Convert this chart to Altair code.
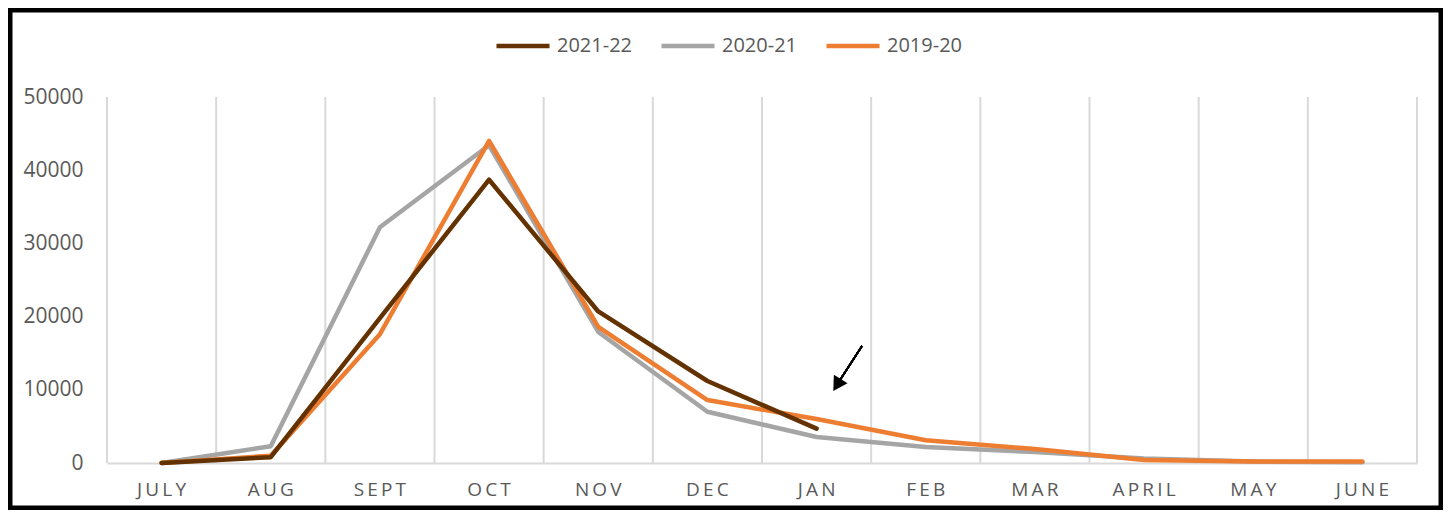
import altair as alt
import pandas as pd

months = ["JULY", "AUG", "SEPT", "OCT", "NOV", "DEC", "JAN", "FEB", "MAR", "APRIL", "MAY", "JUNE"]
s2122 = [0, 800, 19800, 38700, 20700, 11200, 4700]
s2021 = [0, 2300, 32200, 43400, 17900, 7000, 3550, 2200, 1500, 600, 200, 100]
s1920 = [0, 1000, 17600, 44000, 18600, 8600, 6000, 3100, 1900, 400, 200, 200]
series = ["2021-22", "2020-21", "2019-20"]
colors = ["#633200", "#A5A5A5", "#ED7D31"]

W, H = 1310, 366

rows = []
for name, vals in zip(series, [s2122, s2021, s1920]):
    for i, v in enumerate(vals):
        rows.append({"month": months[i], "season": name, "value": v, "idx": i})
df = pd.DataFrame(rows)
mdf = pd.DataFrame({"month": months})

xscale = alt.Scale(type="band", domain=months, paddingInner=0, paddingOuter=0)
yscale = alt.Scale(domain=[0, 50000])
cscale = alt.Scale(domain=series, range=colors)

grid = alt.Chart(mdf).mark_rule(color="#D9D9D9", strokeWidth=2).encode(
    x=alt.X("month:N", scale=xscale, bandPosition=0, sort=months,
            axis=alt.Axis(title=None, ticks=False, domainColor="#D9D9D9", domainWidth=2,
                          labelFontSize=19, labelColor="#595959", labelFont="Open Sans",
                          labelPadding=17, labelAngle=0,
                          labelExpr="join(split(datum.label, ''), '\u2009')")),
    y=alt.value(0),
    y2=alt.value(H),
)
right_rule = alt.Chart(mdf).mark_rule(color="#D9D9D9", strokeWidth=2).encode(
    x=alt.value(W), y=alt.value(0), y2=alt.value(H)
)

def line_layer(name):
    return alt.Chart(df[df.season == name]).mark_line(strokeWidth=4.5, strokeCap="round", strokeJoin="round").encode(
        x=alt.X("month:N", scale=xscale, bandPosition=0.5, sort=months),
        y=alt.Y("value:Q", scale=yscale,
                axis=alt.Axis(title=None, values=[0, 10000, 20000, 30000, 40000, 50000],
                              format="d", grid=False, domain=False, ticks=False, labelFontSize=21,
                              labelColor="#595959", labelFont="Open Sans", labelPadding=24)),
        color=alt.Color("season:N", scale=cscale,
                        legend=alt.Legend(title=None, orient="none", direction="horizontal",
                                          legendX=387, legendY=-80, symbolType="stroke",
                                          symbolSize=2809, symbolStrokeWidth=4.5,
                                          labelFontSize=20, labelFont="Open Sans",
                                          labelColor="#595959", labelOffset=5,
                                          columnPadding=19)),
        order="idx:Q",
    )

arrow_line = alt.Chart(mdf).mark_rule(color="black", strokeWidth=1.5).encode(
    x=alt.value(755), y=alt.value(249), x2=alt.value(733), y2=alt.value(283)
)
arrow_head = alt.Chart(pd.DataFrame({"a": [1]})).mark_point(
    shape="triangle-up", filled=True, color="black", size=260, angle=212, opacity=1
).encode(x=alt.value(730), y=alt.value(288))

border = alt.Chart(pd.DataFrame({"a": [1]})).mark_rect(
    fill=None, stroke="black", strokeWidth=5, clip=False
).encode(x=alt.value(-97), x2=alt.value(1334), y=alt.value(-87), y2=alt.value(411))

chart = alt.layer(
    grid, right_rule,
    line_layer("2020-21"), line_layer("2019-20"), line_layer("2021-22"),
    arrow_line, arrow_head, border,
).properties(
    width=W, height=H,
    autosize=alt.AutoSizeParams(type="none"),
    padding={"left": 99, "top": 89, "right": 26, "bottom": 47},
    background="white",
).configure_view(stroke=None)

chart.save("out.html", embed_options={"renderer": "svg", "actions": False})
